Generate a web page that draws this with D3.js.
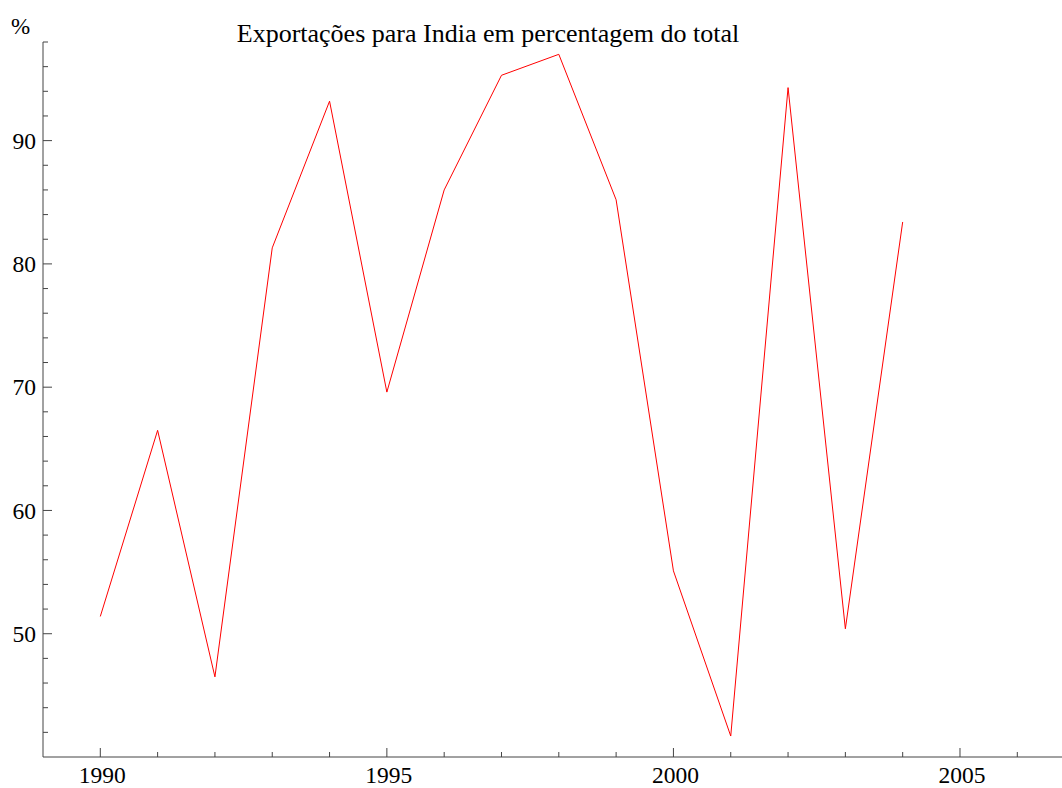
<!DOCTYPE html>
<html lang="pt">
<head>
<meta charset="utf-8">
<title>Exportações para India</title>
<script src="https://d3js.org/d3.v7.min.js"></script>
<style>
  body { margin: 0; background: #fff; }
  svg { display: block; font-family: "Liberation Serif", "DejaVu Serif", serif; }
</style>
</head>
<body>
<div id="chart"></div>
<script>
// Data
const years = [1990, 1991, 1992, 1993, 1994, 1995, 1996, 1997, 1998, 1999, 2000, 2001, 2002, 2003, 2004];
const shares = [51.4, 66.5, 46.5, 81.3, 93.2, 69.6, 86.0, 95.3, 97.0, 85.2, 55.1, 41.7, 94.3, 50.4, 83.4];
const xTicks = [1990, 1995, 2000, 2005];
const yTicks = [50, 60, 70, 80, 90];

const width = 1062;
const height = 788;
const margin = { top: 42, right: 0, bottom: 31, left: 43 };

const svg = d3.select("#chart").append("svg")
    .attr("width", width)
    .attr("height", height);

const x = d3.scaleLinear()
    .domain([1989, 2006.78])
    .range([margin.left, width - margin.right]);

const y = d3.scaleLinear()
    .domain([40, 98])
    .range([height - margin.bottom, margin.top]);

const axisColor = "#444";

// Title and unit
svg.append("text")
    .attr("x", 488)
    .attr("y", 42)
    .attr("text-anchor", "middle")
    .attr("font-size", 26)
    .attr("fill", "#000")
    .text("Exportações para India em percentagem do total");

svg.append("text")
    .attr("x", 11)
    .attr("y", 34)
    .attr("font-size", 23)
    .text("%");

// X axis (ticks pointing inward)
const xAxis = svg.append("g")
    .attr("transform", `translate(0,${y(40)})`);
xAxis.append("line")
    .attr("x1", x(1989)).attr("x2", width)
    .attr("stroke", axisColor);
xAxis.selectAll(".minor")
    .data(d3.range(1990, 2007))
    .enter().append("line")
    .attr("x1", d => x(d)).attr("x2", d => x(d))
    .attr("y1", 0)
    .attr("y2", d => xTicks.includes(d) ? -9 : -5)
    .attr("stroke", axisColor);
xAxis.selectAll(".label")
    .data(xTicks)
    .enter().append("text")
    .attr("x", d => x(d) + 2)
    .attr("y", 26)
    .attr("text-anchor", "middle")
    .attr("font-size", 23.5)
    .text(d => d);

// Y axis
const yAxis = svg.append("g")
    .attr("transform", `translate(${x(1989)},0)`);
yAxis.append("line")
    .attr("y1", y(40)).attr("y2", y(98))
    .attr("stroke", axisColor);
yAxis.selectAll(".minor")
    .data(d3.range(42, 99, 2))
    .enter().append("line")
    .attr("y1", d => y(d)).attr("y2", d => y(d))
    .attr("x1", 0)
    .attr("x2", d => yTicks.includes(d) ? 9 : 5)
    .attr("stroke", axisColor);
yAxis.selectAll(".label")
    .data(yTicks)
    .enter().append("text")
    .attr("x", -7)
    .attr("y", d => y(d))
    .attr("dy", "0.35em")
    .attr("text-anchor", "end")
    .attr("font-size", 23.5)
    .text(d => d);

// Line
const line = d3.line()
    .x((d, i) => x(years[i]))
    .y(d => y(d));

svg.append("path")
    .datum(shares)
    .attr("d", line)
    .attr("fill", "none")
    .attr("stroke", "#ff0000")
    .attr("stroke-width", 1);
</script>
</body>
</html>
